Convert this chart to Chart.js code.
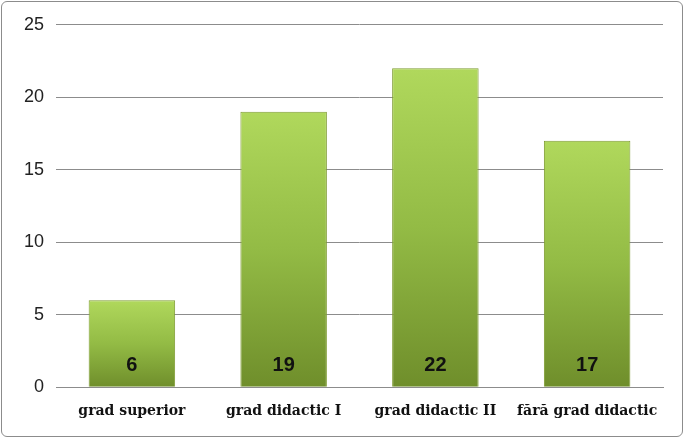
<!DOCTYPE html>
<html><head><meta charset="utf-8">
<script src="https://cdn.jsdelivr.net/npm/chart.js@4"></script>
<style>
html,body{margin:0;padding:0;background:#fff;}
#wrap{position:absolute;left:1px;top:1px;width:680px;height:434px;border:1px solid #8c8c8c;border-radius:6px;}
canvas{display:block;}
</style></head><body>
<div id="wrap"><canvas id="c" width="680" height="434"></canvas></div>
<script>
const categories = ["grad superior","grad didactic I","grad didactic II","fără grad didactic"];
const values = [6,19,22,17];
const yTicks = [0,5,10,15,20,25];

const labelPlugin = {
  id:'lbl',
  afterDatasetsDraw(chart){
    const ctx=chart.ctx, meta=chart.getDatasetMeta(0), y0=chart.scales.y.getPixelForValue(0);
    ctx.save();
    ctx.font='bold 20px "Liberation Sans", Arial, sans-serif';
    ctx.fillStyle='#111'; ctx.textAlign='center'; ctx.textBaseline='middle';
    meta.data.forEach((b,i)=>ctx.fillText(String(values[i]), b.x, y0-22));
    ctx.restore();
  }
};
new Chart(document.getElementById('c'),{
  type:'bar',
  data:{labels:categories,datasets:[{data:values,
    backgroundColor:(c)=>{const a=c.chart.chartArea; if(!a||c.type!=='data') return '#8fb33e';
      const y=c.chart.scales.y, top=y.getPixelForValue(c.raw), bot=y.getPixelForValue(0);
      const g=c.chart.ctx.createLinearGradient(0,top,0,bot);
      g.addColorStop(0,'#b0d85c'); g.addColorStop(0.5,'#93bb45'); g.addColorStop(1,'#6f8e2b'); return g;},
    borderColor:'#7f9c33', borderWidth:1, categoryPercentage:1, barPercentage:0.57}]},
  options:{responsive:false,animation:false,
    layout:{padding:{left:10,right:19,top:18,bottom:8}},
    plugins:{legend:{display:false},tooltip:{enabled:false}},
    scales:{
      y:{min:0,max:25,afterBuildTicks:(s)=>{s.ticks=yTicks.map(v=>({value:v}));},
        ticks:{color:'#222',font:{family:'"Liberation Sans", Arial',size:18},padding:12},
        grid:{color:'#8c8c8c',drawTicks:false},border:{display:false}},
      x:{grid:{display:false},border:{color:'#8c8c8c'},
        ticks:{color:'#111',font:{family:'"DejaVu Serif", serif',size:14,weight:'bold'},maxRotation:0,padding:8}}
    }},
  plugins:[labelPlugin]
});
</script></body></html>
